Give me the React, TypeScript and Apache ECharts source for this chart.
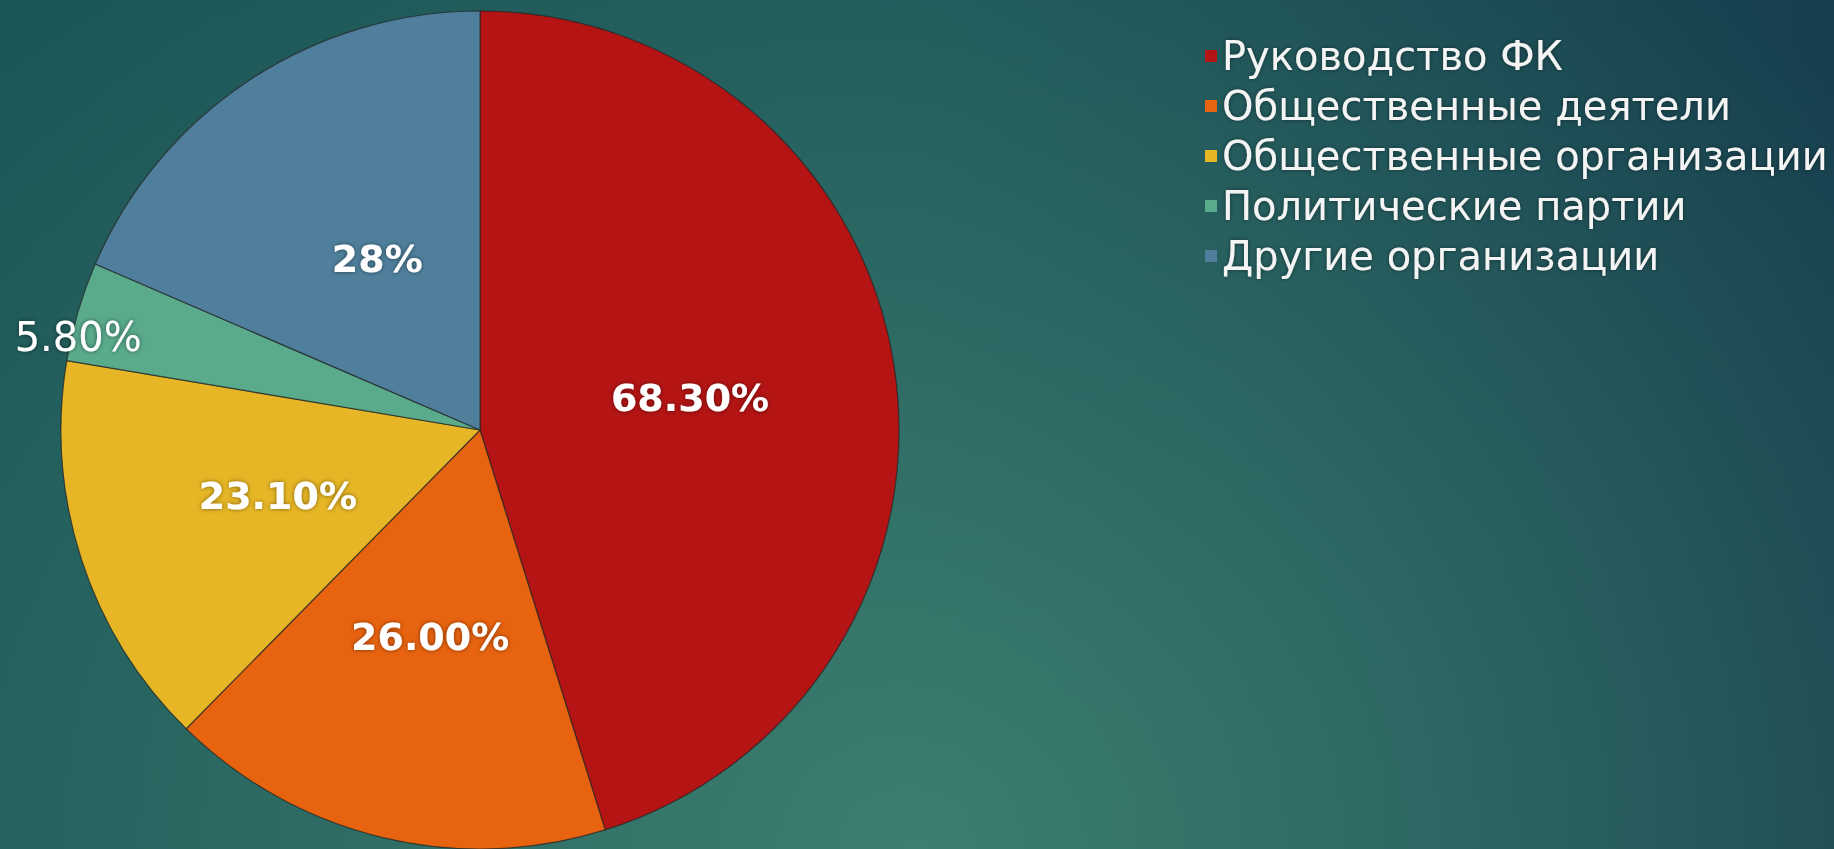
import React, { useEffect, useRef } from "react";
import * as echarts from "echarts";

const categories = [
  "Руководство ФК",
  "Общественные деятели",
  "Общественные организации",
  "Политические партии",
  "Другие организации",
];
const values = [68.3, 26.0, 23.1, 5.8, 28];
const valueLabels = ["68.30%", "26.00%", "23.10%", "5.80%", "28%"];
const colors = ["#b41414", "#e8630f", "#e7b626", "#5aaa8c", "#4f7f9c"];

export default function App() {
  const ref = useRef<HTMLDivElement>(null);
  useEffect(() => {
    if (!ref.current) return;
    const chart = echarts.init(ref.current, undefined, { renderer: "svg" });
    const font = "'DejaVu Sans', 'Liberation Sans', sans-serif";
    const data = categories.map((name, i) => {
      const item: any = {
        name,
        value: values[i],
        itemStyle: { color: colors[i] },
      };
      if (i === 3) {
        item.label = {
          fontWeight: "normal",
          fontSize: 40,
          lineHeight: 66,
          padding: [0, 396, 0, 0],
          formatter: () => valueLabels[3] + "\n ",
        };
      }
      if (i === 4) {
        item.label = {
          lineHeight: 14,
          padding: [0, 0, 0, 28],
          formatter: () => " \n" + valueLabels[4],
        };
      }
      return item;
    });
    chart.setOption({
      animation: false,
      backgroundColor: "transparent",
      legend: {
        orient: "vertical",
        left: 1200,
        top: 31,
        icon: "rect",
        itemWidth: 12,
        itemHeight: 12,
        itemGap: 10,
        data: categories,
        selectedMode: false,
        itemStyle: { borderWidth: 0 },
        textStyle: {
          color: "#f4f4f4",
          fontFamily: font,
          fontSize: 40,
          lineHeight: 40,
          textShadowColor: "rgba(0,0,0,0.45)",
          textShadowBlur: 4,
        },
      },
      series: [
        {
          type: "pie",
          center: [480, 430],
          radius: 419,
          startAngle: 90,
          clockwise: true,
          avoidLabelOverlap: false,
          itemStyle: {
            borderColor: "rgba(35,35,35,0.7)",
            borderWidth: 1.2,
          },
          label: {
            show: true,
            position: "inside",
            color: "#ffffff",
            fontFamily: font,
            fontWeight: "bold",
            fontSize: 38,
            textShadowColor: "rgba(0,0,0,0.5)",
            textShadowBlur: 4,
            formatter: (p: any) => valueLabels[p.dataIndex],
          },
          labelLine: { show: false },
          emphasis: { disabled: true },
          data,
        },
      ],
    });
    return () => chart.dispose();
  }, []);
  return (
    <div
      style={{
        position: "fixed",
        left: 0,
        top: 0,
        width: 1834,
        height: 849,
        background:
          "radial-gradient(ellipse 70% 130% at 50% 100%, rgba(75,145,122,0.7) 0%, rgba(75,145,122,0) 100%), linear-gradient(90deg, #1c5657 0%, #1b5357 50%, #163f4e 100%)",
      }}
    >
      <div ref={ref} style={{ width: 1834, height: 849 }} />
    </div>
  );
}
